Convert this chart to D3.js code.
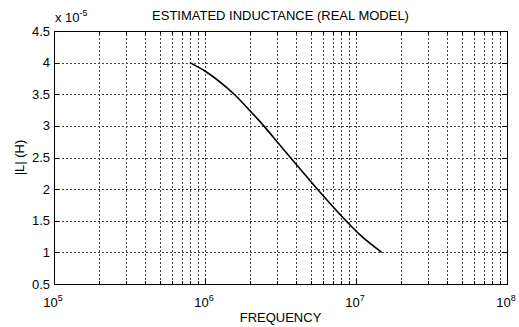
<!DOCTYPE html>
<html>
<head>
<meta charset="utf-8">
<script src="https://cdn.jsdelivr.net/npm/d3@7"></script>
<style>
body { margin: 0; background: #fff; }
text { font-family: "Liberation Sans", Arial, sans-serif; fill: #000; }
</style>
</head>
<body>
<svg id="chart" width="519" height="327"></svg>
<script>
// data (frequency in Hz, inductance in units of 1e-5 H)
const freq = [7.93e5, 1.01e6, 1.40e6, 1.59e6, 1.95e6, 2.45e6, 3.20e6, 3.96e6, 5.5e6, 8.7e6, 1.06e7, 1.48e7];
const induct = [4.0, 3.86, 3.60, 3.48, 3.26, 3.0, 2.67, 2.41, 2.01, 1.485, 1.28, 1.0];
const yTicks = [0.5, 1, 1.5, 2, 2.5, 3, 3.5, 4, 4.5];
const xDecades = [5, 6, 7, 8];

const svg = d3.select('#chart');
const margin = {left: 54, right: 12, top: 31, bottom: 43};
const width = +svg.attr('width');
const height = +svg.attr('height');
const x0 = margin.left, x1 = width - margin.right;
const y0 = height - margin.bottom, y1 = margin.top;

const x = d3.scaleLog().domain([1e5, 1e8]).range([x0, x1]);
const y = d3.scaleLinear().domain([0.5, 4.5]).range([y0, y1]);

// minor + major vertical grid positions
const xGrid = [];
for (let e = 5; e < 8; e++) {
    for (let m = 1; m <= 9; m++) xGrid.push(m * Math.pow(10, e));
}
xGrid.push(1e8);

const grid = svg.append('g').attr('class', 'grid')
    .style('stroke', '#444').style('stroke-width', 1).style('stroke-dasharray', '2,2');

grid.selectAll('.vg')
    .data(xGrid.filter(d => d > 1e5 && d < 1e8))
    .join('line')
    .attr('x1', d => Math.round(x(d)) + 0.5)
    .attr('x2', d => Math.round(x(d)) + 0.5)
    .attr('y1', y0).attr('y2', y1);

grid.selectAll('.hg')
    .data(yTicks.filter(d => d > 0.5 && d < 4.5))
    .join('line')
    .attr('x1', x0).attr('x2', x1)
    .attr('y1', d => Math.round(y(d)) + 0.5)
    .attr('y2', d => Math.round(y(d)) + 0.5);

// ticks (inward, all four sides)
const ticks = svg.append('g').style('stroke', '#000').style('stroke-width', 1);
xGrid.forEach(d => {
    const len = (Math.log10(d) % 1 === 0) ? 5 : 3;
    const px = Math.round(x(d)) + 0.5;
    ticks.append('line').attr('x1', px).attr('x2', px).attr('y1', y0).attr('y2', y0 - len);
    ticks.append('line').attr('x1', px).attr('x2', px).attr('y1', y1).attr('y2', y1 + len);
});
yTicks.forEach(d => {
    const py = Math.round(y(d)) + 0.5;
    ticks.append('line').attr('x1', x0).attr('x2', x0 + 5).attr('y1', py).attr('y2', py);
    ticks.append('line').attr('x1', x1).attr('x2', x1 - 5).attr('y1', py).attr('y2', py);
});

// box
svg.append('rect')
    .attr('x', x0 + 0.5).attr('y', y1 + 0.5)
    .attr('width', x1 - x0).attr('height', y0 - y1)
    .attr('fill', 'none').attr('stroke', '#000').attr('stroke-width', 1);

// y tick labels
svg.append('g').selectAll('text')
    .data(yTicks)
    .join('text')
    .attr('x', x0 - 4)
    .attr('y', d => y(d) + 4.5)
    .attr('text-anchor', 'end')
    .style('font-size', '13px')
    .text(d => d);

// x tick labels 10^n
const xl = svg.append('g').selectAll('text')
    .data(xDecades)
    .join('text')
    .attr('x', d => x(Math.pow(10, d)) - 1)
    .attr('y', y0 + 23)
    .attr('text-anchor', 'middle')
    .style('font-size', '13px');
xl.append('tspan').text('10');
xl.append('tspan').attr('dy', -6).style('font-size', '9px').text(d => d);

// exponent label
const ex = svg.append('text').attr('x', x0 + 1).attr('y', y1 - 9).style('font-size', '13px');
ex.append('tspan').text('x 10');
ex.append('tspan').attr('dy', -6).style('font-size', '9px').text('-5');

// title and axis labels
svg.append('text')
    .attr('x', (x0 + x1) / 2).attr('y', y1 - 11)
    .attr('text-anchor', 'middle')
    .style('font-size', '13px')
    .text('ESTIMATED INDUCTANCE (REAL MODEL)');

svg.append('text')
    .attr('x', (x0 + x1) / 2).attr('y', height - 5)
    .attr('text-anchor', 'middle')
    .style('font-size', '13px')
    .text('FREQUENCY');

svg.append('text')
    .attr('transform', `translate(24, ${(y0 + y1) / 2}) rotate(-90)`)
    .attr('text-anchor', 'middle')
    .style('font-size', '13px')
    .text('|L| (H)');

// curve
const pts = freq.map((f, i) => [f, induct[i]]);
svg.append('path')
    .datum(pts)
    .attr('fill', 'none')
    .attr('stroke', '#000')
    .attr('stroke-width', 1.6)
    .attr('d', d3.line().x(d => x(d[0])).y(d => y(d[1])).curve(d3.curveMonotoneX));
</script>
</body>
</html>
